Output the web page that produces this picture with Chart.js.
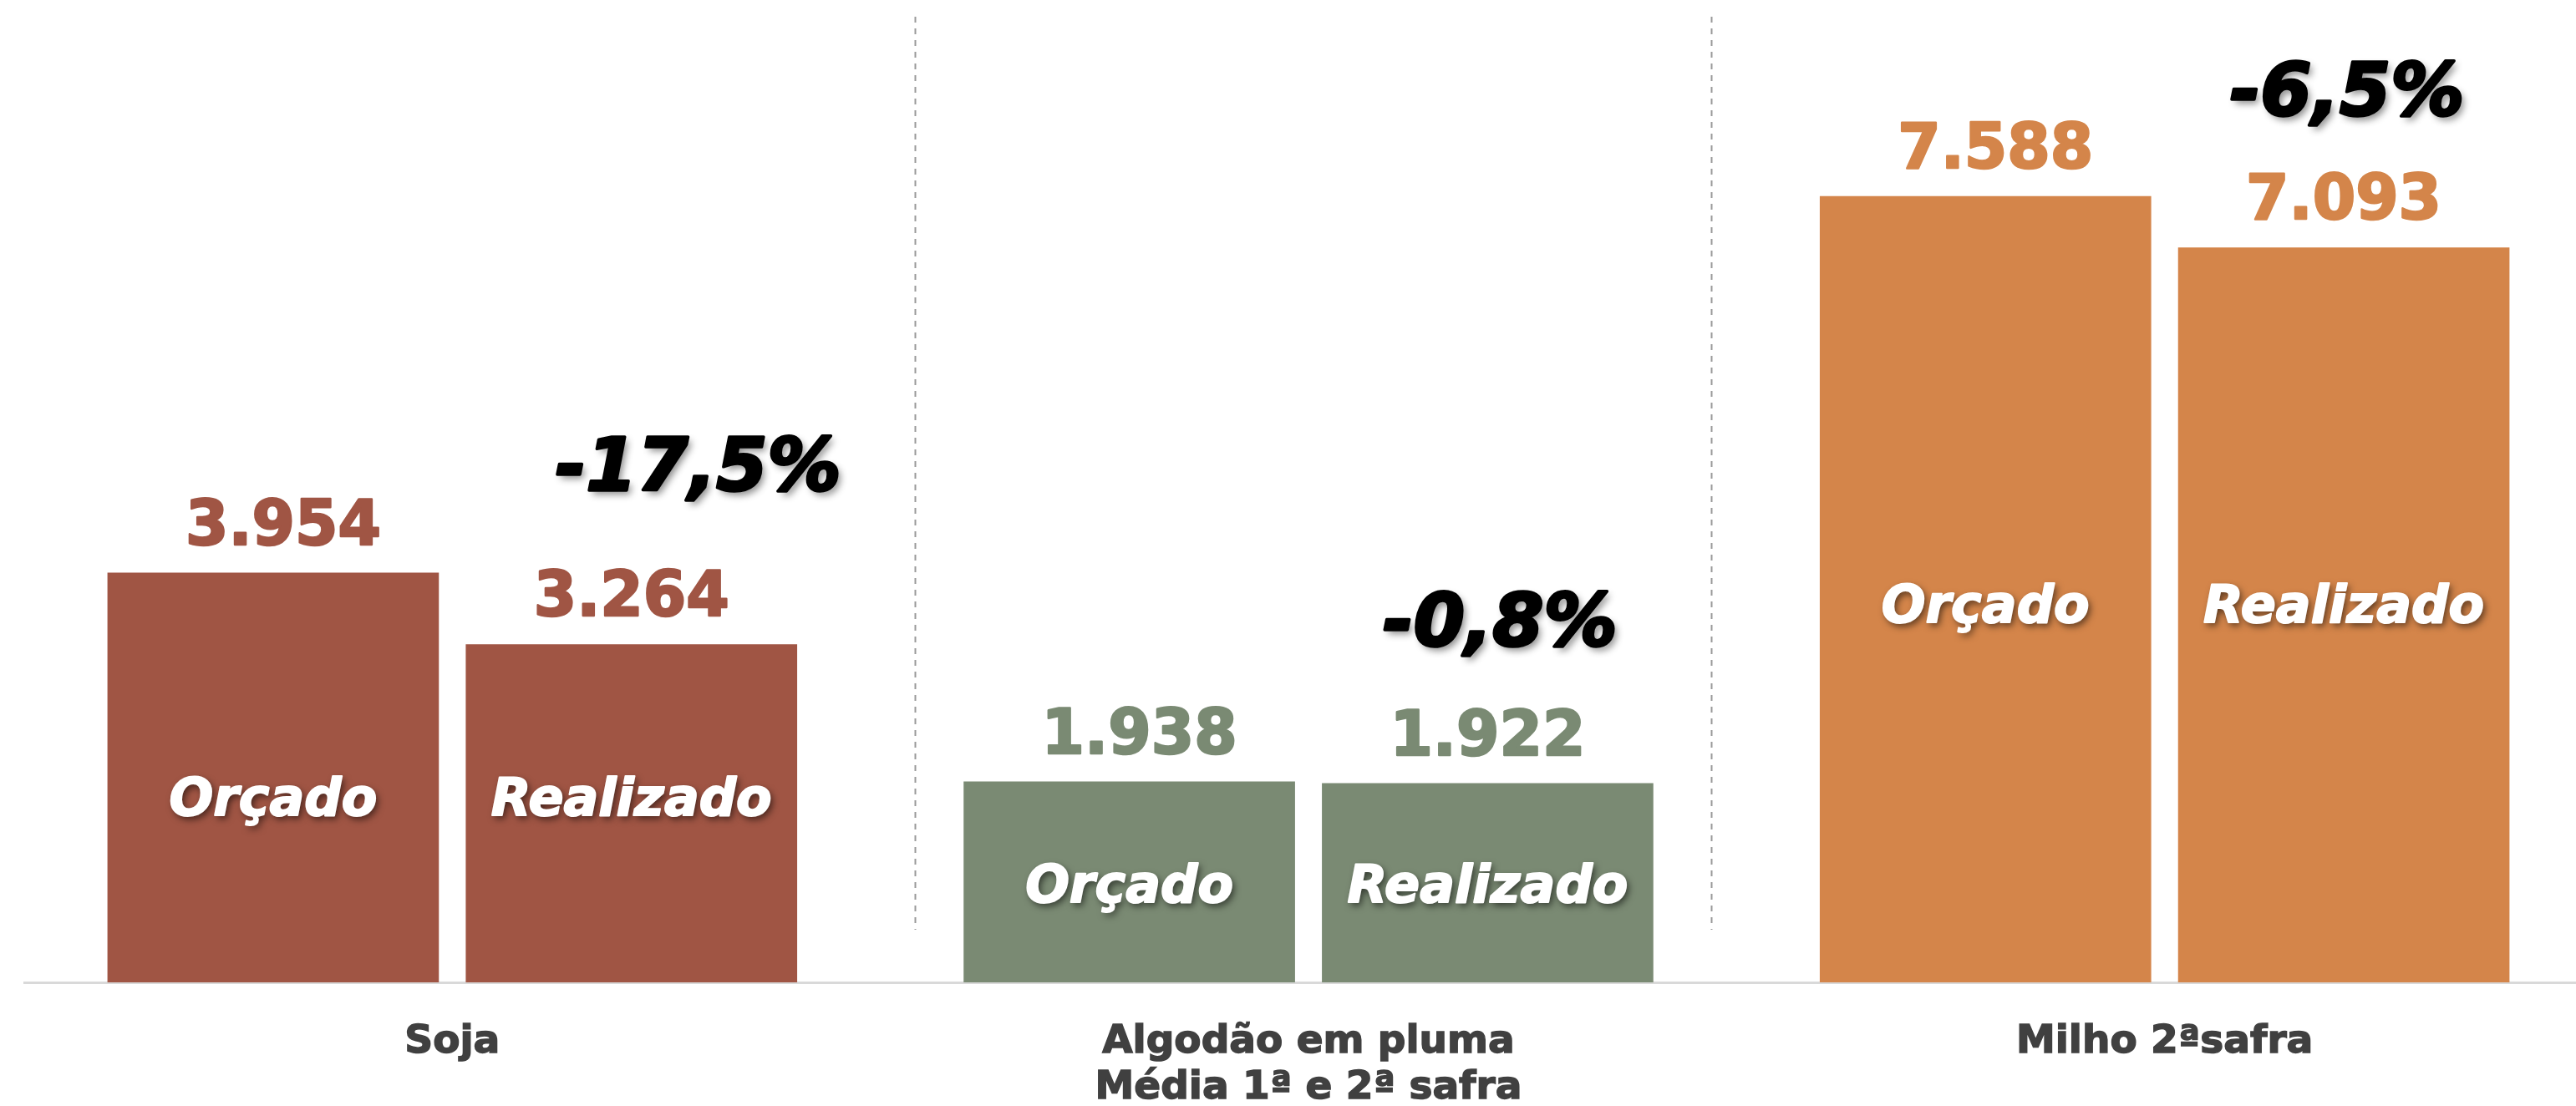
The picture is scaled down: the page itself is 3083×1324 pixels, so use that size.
<!DOCTYPE html>
<html>
<head>
<meta charset="utf-8">
<script src="https://cdn.jsdelivr.net/npm/chart.js@4.4.1/dist/chart.umd.min.js"></script>
<style>
html, body { margin:0; padding:0; background:#fff; overflow:hidden; }
#wrap { width:3103px; height:1324px; }
</style>
</head>
<body>
<div id="wrap"><canvas id="chart" width="3103" height="1324"></canvas></div>
<script>
// data
const categories = [["Soja"], ["Algodão em pluma", "Média 1ª e 2ª safra"], ["Milho 2ªsafra"]]
const seriesNames = ["Orçado", "Realizado"]
const orcado = [3954, 1938, 7588]
const realizado = [3264, 1922, 7093]
const variacao = ["-17,5%", "-0,8%", "-6,5%"]
const cores = ["#A05544", "#7A8A73", "#D4854A"]

const FONT = "'DejaVu Sans', Verdana, sans-serif"

// divisórias tracejadas (em unidades de categoria)
const divisorias = [0.54, 1.47]
// ajustes dos rótulos de variação
const pctShiftX = [80, 15, 4]
const pctShiftY = [-207, -187, -181]

function fmt(v){
  return String(v).replace(/\B(?=(\d{3})+(?!\d))/g, ".")
}

function texto(ctx, t, x, y, stroke){
  ctx.fillText(t, x, y)
  if(stroke){
    ctx.save()
    ctx.shadowColor = "transparent"
    ctx.lineWidth = stroke
    ctx.lineJoin = "round"
    ctx.strokeStyle = ctx.fillStyle
    ctx.strokeText(t, x, y)
    ctx.restore()
  }
}

const rotulos = {
  id: "rotulos",
  beforeDatasetsDraw(chart){
    const ctx = chart.ctx
    const x = chart.scales.x
    const area = chart.chartArea
    ctx.save()
    ctx.strokeStyle = "#9A9A9A"
    ctx.lineWidth = 2
    ctx.setLineDash([7, 7])
    divisorias.forEach(d => {
      const px = Math.round(x.getPixelForValue(d)) + 0.5
      ctx.beginPath()
      ctx.moveTo(px, area.top + 10)
      ctx.lineTo(px, area.bottom - 63)
      ctx.stroke()
    })
    ctx.restore()
  },
  afterDatasetsDraw(chart){
    const ctx = chart.ctx
    const m0 = chart.getDatasetMeta(0).data
    const m1 = chart.getDatasetMeta(1).data
    ctx.save()
    ctx.textAlign = "center"
    ctx.textBaseline = "middle"

    // valores acima das barras
    ctx.font = "bold 74px " + FONT
    ;[m0, m1].forEach((bars, d) => {
      const vals = d === 0 ? orcado : realizado
      bars.forEach((b, i) => {
        ctx.fillStyle = cores[i]
        texto(ctx, fmt(vals[i]), b.x + (d === 0 ? 12 : 0), b.y - 53, 2.5)
      })
    })

    // nomes dentro das barras
    ctx.font = "italic bold 62px " + FONT
    ctx.fillStyle = "#ffffff"
    ctx.shadowColor = "rgba(0,0,0,0.6)"
    ctx.shadowBlur = 8
    ctx.shadowOffsetX = 3
    ctx.shadowOffsetY = 4
    m0.forEach((b, i) => {
      const b2 = m1[i]
      const y = ((b.y + b.base) / 2 + (b2.y + b2.base) / 2) / 2 + 8
      texto(ctx, seriesNames[0], b.x, y, 2)
      texto(ctx, seriesNames[1], b2.x, y, 2)
    })

    // variação
    ctx.font = "italic bold 88px " + FONT
    ctx.fillStyle = "#000000"
    ctx.shadowColor = "rgba(0,0,0,0.45)"
    ctx.shadowBlur = 9
    ctx.shadowOffsetX = 4
    ctx.shadowOffsetY = 5
    m1.forEach((b, i) => {
      texto(ctx, variacao[i], b.x + pctShiftX[i], b.y + pctShiftY[i], 3.5)
    })
    ctx.restore()
  }
}

new Chart(document.getElementById("chart"), {
  type: "bar",
  data: {
    labels: categories,
    datasets: [
      { label: seriesNames[0], data: orcado, backgroundColor: cores },
      { label: seriesNames[1], data: realizado, backgroundColor: cores }
    ]
  },
  options: {
    responsive: false,
    devicePixelRatio: 1,
    animation: false,
    categoryPercentage: 0.837,
    barPercentage: 0.925,
    layout: { padding: { left: 29, right: 0, top: 10, bottom: 0 } },
    plugins: { legend: { display: false }, tooltip: { enabled: false } },
    scales: {
      x: {
        grid: { display: false, drawTicks: false },
        border: { display: true, color: "#D9D9D9", width: 3 },
        ticks: {
          color: "#404040", padding: 44,
          textStrokeColor: "#404040", textStrokeWidth: 1.5,
          font: { family: FONT, size: 47, weight: "bold", lineHeight: 1.18 }
        },
        afterFit(s){ s.height = 148 }
      },
      y: { display: false, min: 0, max: 9400 }
    }
  },
  plugins: [rotulos]
})
</script>
</body>
</html>
